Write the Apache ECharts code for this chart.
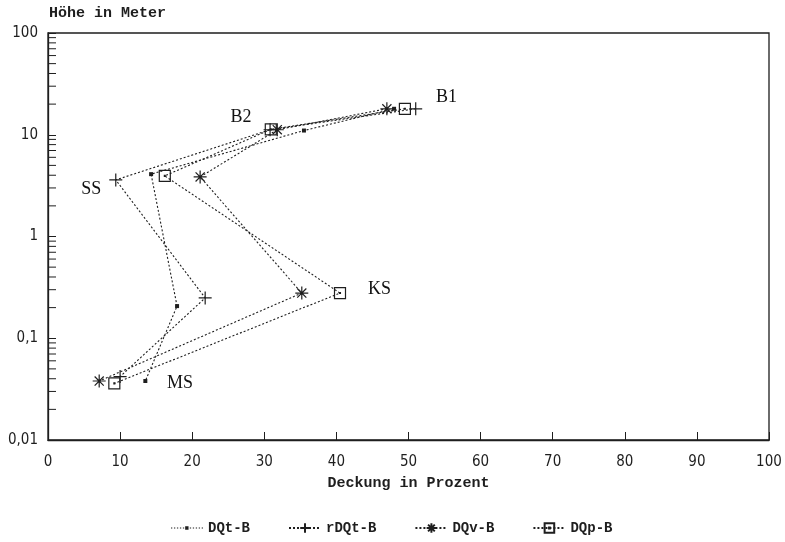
<!DOCTYPE html>
<html>
<head>
<meta charset="utf-8">
<script src="https://cdn.jsdelivr.net/npm/echarts@6/dist/echarts.min.js"></script>
<style>
  html, body { margin: 0; padding: 0; background: #fff; }
  #chart { width: 785px; height: 542px; }
</style>
</head>
<body>
<div id="chart"></div>
<script>
// Vegetation layers (B1 = Baumschicht 1 ... MS = Moosschicht): [Deckung %, Höhe m]
const layerNames = ['B1', 'B2', 'SS', 'KS', 'MS'];
const dqtB  = [[48.0, 18.0], [35.5, 11.0], [14.3, 4.1],  [17.9, 0.207], [13.5, 0.038]];
const rdqtB = [[51.0, 18.0], [30.8, 11.2], [9.4, 3.6],   [21.8, 0.249], [10.0, 0.042]];
const dqvB  = [[47.0, 18.0], [31.8, 11.2], [21.1, 3.85], [35.2, 0.278], [7.1, 0.038]];
const dqpB  = [[49.5, 18.0], [30.9, 11.3], [16.2, 3.94], [40.5, 0.278], [9.2, 0.036]];

// Layer labels placed beside the point clusters: [x, y, text]
const layerLabels = [[53.8, 23.5, 'B1'], [25.3, 14.9, 'B2'], [4.6, 2.93, 'SS'], [44.4, 0.305, 'KS'], [16.5, 0.0363, 'MS']];

const xTicks = [0, 10, 20, 30, 40, 50, 60, 70, 80, 90, 100];
const yTickLabels = ['0,01', '0,1', '1', '10', '100'];
// minor tick values 2..9 within each decade
const yMinorTicks = [];
[0.01, 0.1, 1, 10].forEach(function (d) {
  for (let k = 2; k <= 9; k++) yMinorTicks.push([0, +(k * d).toPrecision(3)]);
});

const ink = '#1e1e1e';
const mono = '"Liberation Mono", "DejaVu Sans Mono", monospace';
const narrow = '"Liberation Sans Narrow", "DejaVu Sans Condensed", "Liberation Sans", sans-serif';
const serif = '"Liberation Serif", "DejaVu Serif", serif';

const symPlus = 'path://M0,6L12,6M6,0L6,12';
const symStar = 'path://M6,0L6,12M0,6L12,6M1.8,1.8L10.2,10.2M10.2,1.8L1.8,10.2';
const symBox = 'path://M0,0L10,0L10,10L0,10Z M4.6,4.6L5.4,4.6L5.4,5.4L4.6,5.4Z';

// legend key for DQt-B: dotted stroke with a small filled square in the middle
function dottedKey() {
  let d = 'path://M0,0M32,12';
  [0, 3, 6, 9, 12, 19, 22, 25, 28, 31].forEach(function (x) {
    d += 'M' + x + ',5.5L' + (x + 1.3) + ',5.5L' + (x + 1.3) + ',6.6L' + x + ',6.6Z';
  });
  d += 'M14.3,4.3L17.7,4.3L17.7,7.7L14.3,7.7Z';
  return d;
}

function lineSeries(name, data, symbol, size, filled) {
  return {
    name: name,
    type: 'line',
    data: data,
    symbol: symbol,
    symbolSize: size,
    showSymbol: true,
    z: 3,
    lineStyle: { color: ink, width: 1.1, type: [2, 2] },
    itemStyle: filled
      ? { color: ink, borderColor: ink, borderWidth: 0 }
      : { color: 'rgba(0,0,0,0)', borderColor: ink, borderWidth: 1.2 },
    emphasis: { disabled: true },
    animation: false
  };
}

const chart = echarts.init(document.getElementById('chart'), null, { renderer: 'canvas' });

chart.setOption({
  backgroundColor: '#fff',
  animation: false,
  grid: {
    left: 48, right: 16, top: 33, bottom: 102,
    show: true, borderColor: ink, borderWidth: 1.3, backgroundColor: 'transparent'
  },
  xAxis: {
    type: 'value',
    min: 0, max: 100, interval: 10,
    name: 'Deckung in Prozent',
    nameLocation: 'middle',
    nameGap: 36,
    nameTextStyle: { fontFamily: mono, fontSize: 15, fontWeight: 'bold', color: ink },
    axisLine: { show: true, lineStyle: { color: ink, width: 1.3 } },
    axisTick: { show: true, inside: true, length: 8, lineStyle: { color: ink, width: 1 } },
    axisLabel: {
      margin: 15, fontFamily: narrow, fontSize: 15, color: ink,
      formatter: function (v) { return xTicks.indexOf(v) >= 0 ? String(v) : ''; }
    },
    splitLine: { show: false }
  },
  yAxis: {
    type: 'log',
    logBase: 10,
    min: 0.01, max: 100,
    name: 'Höhe in Meter',
    nameLocation: 'end',
    nameGap: 12,
    nameTextStyle: { fontFamily: mono, fontSize: 15, fontWeight: 'bold', color: ink, align: 'left', padding: [0, 0, 0, 1] },
    axisLine: { show: true, lineStyle: { color: ink, width: 1.3 } },
    axisTick: { show: true, inside: true, length: 8, lineStyle: { color: ink, width: 1 } },
    axisLabel: {
      margin: 10, fontFamily: narrow, fontSize: 15, color: ink,
      formatter: function (v) {
        const i = Math.round(Math.log10(v)) + 2;
        return yTickLabels[i] || '';
      }
    },
    splitLine: { show: false }
  },
  legend: {
    bottom: 2,
    left: 166,
    itemGap: 38,
    itemWidth: 32,
    itemHeight: 12,
    data: [{ name: 'DQt-B', icon: dottedKey() }, 'rDQt-B', 'DQv-B', 'DQp-B'],
    textStyle: { fontFamily: mono, fontSize: 14, fontWeight: 'bold', color: ink },
    selectedMode: false
  },
  series: [
    lineSeries('DQt-B', dqtB, 'rect', 4, true),
    lineSeries('rDQt-B', rdqtB, symPlus, 13, false),
    lineSeries('DQv-B', dqvB, symStar, 13, false),
    lineSeries('DQp-B', dqpB, symBox, 11, false),
    {
      // layer names next to the points
      name: 'layers',
      type: 'scatter',
      data: layerLabels.map(function (d) { return [d[0], d[1], d[2]]; }),
      symbolSize: 0,
      silent: true,
      itemStyle: { opacity: 1 },
      label: {
        show: true,
        position: 'right',
        distance: 0,
        formatter: function (p) { return p.data[2]; },
        fontFamily: serif,
        fontSize: 18,
        color: '#111'
      }
    },
    {
      // minor log ticks on the height axis, pointing into the plot
      name: 'minorTicks',
      type: 'custom',
      data: yMinorTicks,
      silent: true,
      clip: false,
      renderItem: function (params, api) {
        const p = api.coord([0, api.value(1)]);
        return {
          type: 'line',
          shape: { x1: p[0], y1: p[1], x2: p[0] + 8, y2: p[1] },
          style: { stroke: ink, lineWidth: 1 }
        };
      }
    }
  ]
});
</script>
</body>
</html>
